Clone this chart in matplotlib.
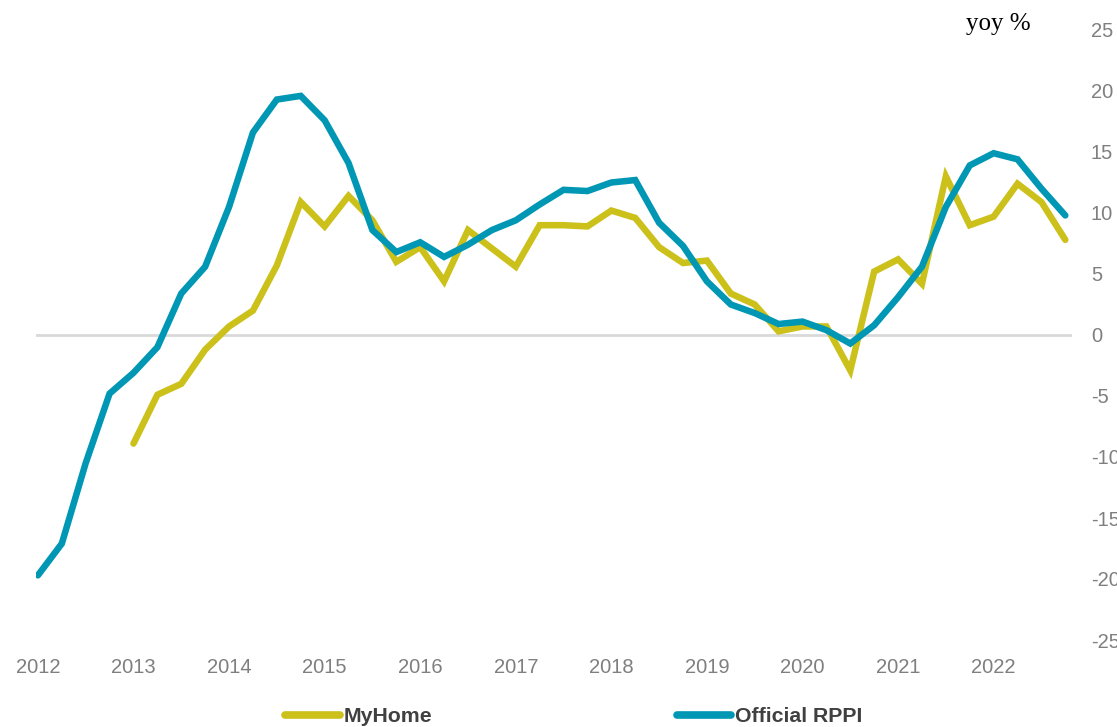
import numpy as np
import matplotlib
matplotlib.use("Agg")
import matplotlib.pyplot as plt
from matplotlib.lines import Line2D

plt.rcParams["axes.unicode_minus"] = False

# Quarterly year-on-year house price growth, %
quarters = np.arange(2012.0, 2023.0, 0.25)

official_rppi = [
    -19.7, -17.1, -10.5, -4.8, -3.1, -1.0, 3.4, 5.6,
    10.5, 16.6, 19.3, 19.6, 17.6, 14.1, 8.6, 6.8,
    7.6, 6.4, 7.4, 8.6, 9.4, 10.7, 11.9, 11.8,
    12.5, 12.7, 9.2, 7.3, 4.4, 2.5, 1.8, 0.9,
    1.1, 0.4, -0.7, 0.8, 3.1, 5.6, 10.5, 13.9,
    14.9, 14.4, 12.0, 9.8,
]

myhome = [
    None, None, None, None, -8.9, -4.9, -4.0, -1.2,
    0.7, 2.0, 5.7, 10.9, 8.9, 11.4, 9.4, 6.0,
    7.2, 4.4, 8.6, 7.1, 5.6, 9.0, 9.0, 8.9,
    10.2, 9.6, 7.2, 5.9, 6.1, 3.4, 2.5, 0.3,
    0.7, 0.7, -2.9, 5.2, 6.2, 4.2, 13.0, 9.0,
    9.7, 12.4, 10.9, 7.8,
]

year_ticks = list(range(2012, 2023))
y_ticks = list(range(-25, 30, 5))

series_names = ["MyHome", "Official RPPI"]
series_colors = ["#CCC01A", "#0097B5"]

W, H = 1117, 727
fig = plt.figure(figsize=(W / 100, H / 100), dpi=100)
ax = fig.add_axes([36 / W, (H - 640) / H, (1072 - 36) / W, 610 / H])

myhome_arr = np.array([np.nan if v is None else v for v in myhome], dtype=float)

ax.axhline(0, color="#D9D9D9", lw=2.0, zorder=1)
ax.plot(quarters, myhome_arr, color=series_colors[0], lw=4.7,
        solid_capstyle="round", solid_joinstyle="miter", zorder=2)
ax.plot(quarters, official_rppi, color=series_colors[1], lw=4.7,
        solid_capstyle="round", solid_joinstyle="miter", zorder=3)

ax.set_xlim(2011.98, 2022.82)
ax.set_ylim(-25, 25)

for s in ax.spines.values():
    s.set_visible(False)

ax.yaxis.tick_right()
ax.set_yticks(y_ticks)
ax.set_yticklabels([str(v) for v in y_ticks])
ax.set_xticks(year_ticks)
ax.set_xticklabels([str(v) for v in year_ticks])
ax.tick_params(axis="both", length=0, labelsize=14.5, labelcolor="#7F7F7F")
ax.tick_params(axis="x", pad=13)
ax.tick_params(axis="y", pad=13.5)
for lbl in ax.get_xticklabels() + ax.get_yticklabels():
    lbl.set_fontfamily("Liberation Sans")

fig.text(1031 / W, (H - 30) / H, "yoy %", ha="right", va="baseline",
         fontsize=18, family="Liberation Serif", color="#000000")

handles = [Line2D([], [], color=c, lw=5.5, solid_capstyle="round") for c in series_colors]
leg = fig.legend(handles, series_names, loc="center", ncol=2,
                 bbox_to_anchor=(574 / W, 10 / H), frameon=False,
                 handlelength=2.55, handletextpad=0.2, columnspacing=11.5,
                 borderpad=0.0,
                 prop={"family": "Liberation Sans", "weight": "bold", "size": 15.3})
for t in leg.get_texts():
    t.set_color("#404040")

fig.savefig("out.png", dpi=100)
